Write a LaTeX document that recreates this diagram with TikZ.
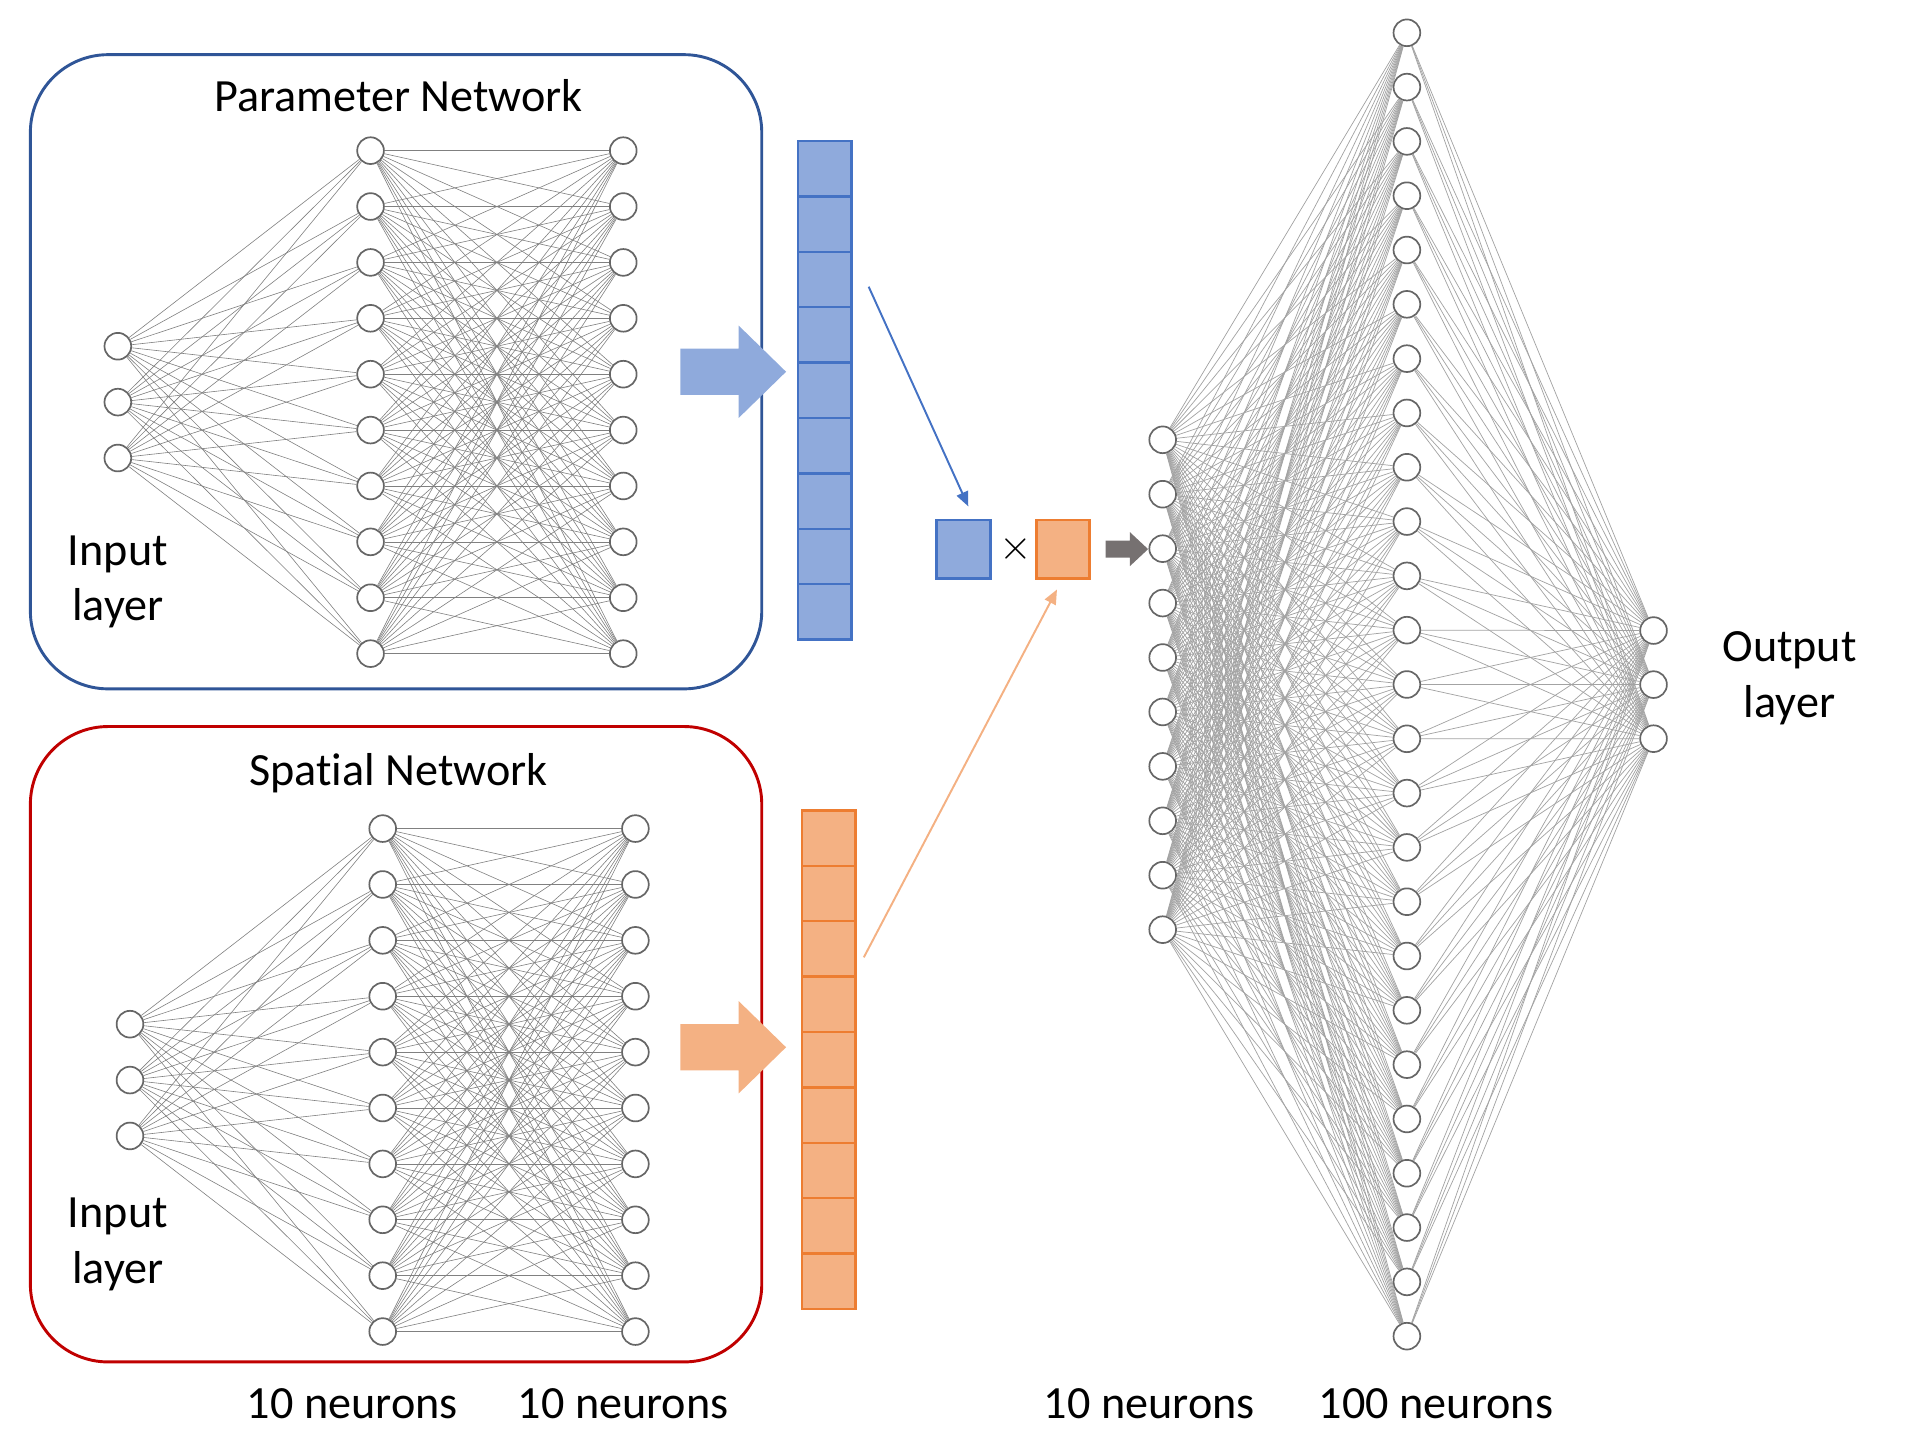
\documentclass[tikz,border=0pt]{standalone}
\usepackage{fontspec}
\setmainfont{Carlito}[Ligatures={NoCommon,NoContextual,NoRare}, Contextuals=NoAlternate]
\usepackage{tikz}
\usetikzlibrary{arrows.meta}

\definecolor{cellblue}{HTML}{8FAADC}
\definecolor{lineblue}{HTML}{4472C4}
\definecolor{boxblue}{HTML}{2F5597}
\definecolor{cellorange}{HTML}{F4B183}
\definecolor{lineorange}{HTML}{ED7D31}
\definecolor{boxred}{HTML}{C00000}
\definecolor{arrowgray}{HTML}{767171}

\begin{document}
\begin{tikzpicture}[x=0.5pt, y=-0.5pt,
        neuron/.style={circle, draw=black!60, fill=white, line width=0.7pt, minimum size=11pt, inner sep=0pt},
        link/.style={draw=black!50, line width=0.25pt},
        deeplink/.style={draw=black!36, line width=0.3pt},
        netbox/.style={rounded corners=32pt, line width=1.2pt},
        cell/.style={line width=1pt},
        wbox/.style={minimum width=22pt, minimum height=24pt, inner sep=0pt, line width=1.2pt},
        pointer/.style={line width=0.8pt, -{Triangle[length=6pt, width=5pt]}},
        label/.style={font=\fontsize{19}{23}\selectfont, align=center}]
    \useasboundingbox (0,0) rectangle (1568,1187);
    % the two small networks
    \draw [netbox, draw=boxblue] (25,45) rectangle (627,567);
    \draw [netbox, draw=boxred] (25,598) rectangle (627,1121);
    \node [label] (ptitle) at (328,79) {Parameter Network};
    \node [label] (stitle) at (328,636) {Spatial Network};
    \node [label] (pinput) at (97,479) {Input\\layer};
    \node [label] (sinput) at (97,1024) {Input\\layer};
    \foreach \nt/\xin/\xh/\yt in {p/97/305/124, s/107/315/682} {
        \foreach \i in {1,2,3}
            \node [neuron] (\nt-in\i) at (\xin, \yt+115+46*\i) {};
        \foreach \j in {1,...,10} {
            \node [neuron] (\nt-ha\j) at (\xh, \yt+46*\j-46) {};
            \node [neuron] (\nt-hb\j) at (\xh+208, \yt+46*\j-46) {};
        }
        \foreach \i in {1,2,3}
            \foreach \j in {1,...,10}
                \draw [link] (\nt-in\i) -- (\nt-ha\j);
        \foreach \j in {1,...,10}
            \foreach \k in {1,...,10}
                \draw [link] (\nt-ha\j) -- (\nt-hb\k);
    }
    % fat arrows and output columns
    \foreach \c/\yc in {cellblue/306, cellorange/862}
        \fill [\c] (560,\yc-19) -- (608,\yc-19) -- (608,\yc-38) -- (647,\yc)
            -- (608,\yc+38) -- (608,\yc+19) -- (560,\yc+19) -- cycle;
    \foreach \i in {0,...,8} {
        \draw [cell, fill=cellblue, draw=lineblue] (657,116+45.6*\i) rectangle ++(44,45.6);
        \draw [cell, fill=cellorange, draw=lineorange] (660,667+45.6*\i) rectangle ++(44,45.6);
    }
    % product
    \node [wbox, fill=cellblue, draw=lineblue] (pw) at (793,452) {};
    \node [label] (times) at (836,452) {$\times$};
    \node [wbox, fill=cellorange, draw=lineorange] (sw) at (875,452) {};
    \coordinate (pfrom) at (715,236);
    \coordinate (sfrom) at (711,788);
    \draw [pointer, lineblue] (pfrom) -- ([xshift=2pt, yshift=5pt]pw.north);
    \draw [pointer, cellorange] (sfrom) -- ([xshift=-2.5pt, yshift=-4pt]sw.south);
    \fill [arrowgray] (910,445) -- (930,445) -- (930,438) -- (945,452)
        -- (930,466) -- (930,459) -- (910,459) -- cycle;
    % the large network
    \foreach \i in {1,...,10}
        \node [neuron] (ra\i) at (957, 362+44.8*\i-44.8) {};
    \foreach \j in {1,...,25}
        \node [neuron] (rb\j) at (1158, 27+44.7*\j-44.7) {};
    \foreach \k in {1,2,3}
        \node [neuron] (ro\k) at (1361, 519+44.5*\k-44.5) {};
    \foreach \i in {1,...,10}
        \foreach \j in {1,...,25}
            \draw [deeplink] (ra\i) -- (rb\j);
    \foreach \j in {1,...,25}
        \foreach \k in {1,2,3}
            \draw [deeplink] (rb\j) -- (ro\k);
    \node [label] (olabel) at (1473,558) {Output\\layer};
    % layer sizes
    \node [label] (n1) at (290,1155) {10 neurons};
    \node [label] (n2) at (513,1155) {10 neurons};
    \node [label] (n3) at (946,1155) {10 neurons};
    \node [label] (n4) at (1182,1155) {100 neurons};
\end{tikzpicture}
\end{document}
